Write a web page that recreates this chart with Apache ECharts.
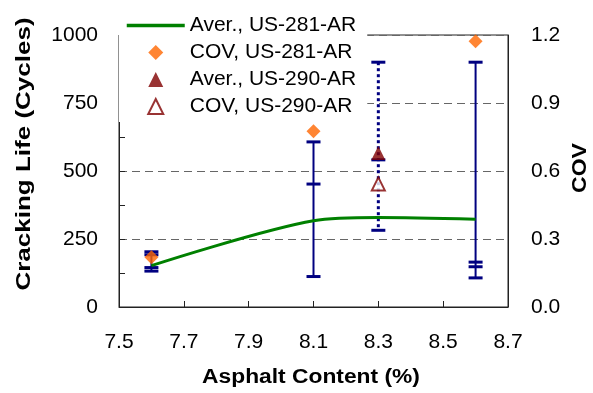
<!DOCTYPE html>
<html>
<head>
<meta charset="utf-8">
<script src="https://cdn.jsdelivr.net/npm/echarts@6/dist/echarts.min.js"></script>
<style>
  html, body { margin: 0; padding: 0; background: #fff; }
  #chart { width: 593px; height: 393px; }
</style>
</head>
<body>
<div id="chart"></div>
<script>
// asphalt content (%) and results
const aver281X = [7.6, 8.1, 8.3, 8.6];
const aver281Y = [152, 317, 329, 323];
const cov281X = [7.6, 8.1, 8.6];
const cov281Y = [0.22, 0.775, 1.172];
const aver290X = [8.3];
const aver290Y = [566];
const cov290X = [8.3];
const cov290Y = [0.543];

// error bars (cycles): ends of each bar and the cross marks on it
const barX = [7.6, 8.1, 8.3, 8.6];
const barLow = [132, 112, 282, 107];
const barHigh = [203, 607, 900, 900];
const barMarks = [[203, 192, 145, 132], [607, 452, 112], [900, 541, 282], [900, 165, 148, 107]];
const barDotted = [false, false, true, false];

// axis ticks
const xTicks = [7.5, 7.7, 7.9, 8.1, 8.3, 8.5, 8.7];
const leftTicks = [0, 250, 500, 750, 1000];
const rightTicks = [0, 0.3, 0.6, 0.9, 1.2];

const FONT = '"Liberation Sans", Arial, sans-serif';
const NAVY = '#000080';
// path symbols so the legend keeps their aspect
const DIAMOND = 'path://M5,0L10,5L5,10L0,5Z';
const TRIANGLE = 'path://M5,0L10,10L0,10Z';

const chart = echarts.init(document.getElementById('chart'));

const pairs = (xs, ys) => xs.map((x, i) => [x, ys[i]]);

chart.setOption({
  animation: false,
  backgroundColor: '#fff',
  grid: {
    left: 119, right: 85, top: 35, bottom: 86,
    show: true, borderColor: '#222', borderWidth: 1, backgroundColor: 'transparent'
  },
  legend: {
    orient: 'vertical',
    left: 119, top: 0,
    padding: [15, 11, 5, 6],
    itemWidth: 58, itemHeight: 15, itemGap: 6,
    symbolKeepAspect: true,
    backgroundColor: '#fff',
    lineStyle: { width: 3.5 },
    textStyle: { fontFamily: FONT, fontSize: 21, color: '#000' },
    data: [
      // hide the dot the line icon gets by default
      { name: 'Aver., US-281-AR', itemStyle: { color: 'transparent', borderColor: 'transparent', borderWidth: 0 } },
      'COV, US-281-AR', 'Aver., US-290-AR', 'COV, US-290-AR'
    ]
  },
  xAxis: {
    type: 'value',
    min: xTicks[0], max: xTicks[xTicks.length - 1],
    interval: xTicks[1] - xTicks[0],
    axisLine: { lineStyle: { color: '#222', width: 1 } },
    axisTick: { inside: true, length: 6, lineStyle: { color: '#222' } },
    axisLabel: { margin: 25, fontFamily: FONT, fontSize: 21, color: '#000',
      formatter: v => v.toFixed(1) },
    splitLine: { show: false }
  },
  yAxis: [
    {
      type: 'value',
      min: leftTicks[0], max: leftTicks[leftTicks.length - 1],
      interval: leftTicks[1] - leftTicks[0],
      axisLine: { show: true, lineStyle: { color: '#222', width: 1 } },
      axisTick: { show: true, inside: true, length: 6, lineStyle: { color: '#222' } },
      minorTick: { show: true, splitNumber: 2, length: 6, lineStyle: { color: '#222' } },
      axisLabel: { margin: 21, fontFamily: FONT, fontSize: 21, color: '#000',
        formatter: v => String(v) },
      splitLine: { show: true, lineStyle: { color: '#666', type: [8, 5], width: 1 } }
    },
    {
      type: 'value',
      min: rightTicks[0], max: rightTicks[rightTicks.length - 1],
      interval: rightTicks[1] - rightTicks[0],
      axisLine: { show: true, lineStyle: { color: '#222', width: 1 } },
      axisTick: { show: false },
      axisLabel: { margin: 23, fontFamily: FONT, fontSize: 21, color: '#000',
        formatter: v => v.toFixed(1) },
      splitLine: { show: false }
    }
  ],
  graphic: [
    { type: 'text', x: 24, y: 154, rotation: Math.PI / 2, scaleX: 1.3,
      style: { text: 'Cracking Life (Cycles)', font: 'bold 20px ' + FONT, fill: '#000',
        textAlign: 'center', textVerticalAlign: 'middle' } },
    { type: 'text', x: 311, y: 377, scaleX: 1.14,
      style: { text: 'Asphalt Content (%)', font: 'bold 20px ' + FONT, fill: '#000',
        textAlign: 'center', textVerticalAlign: 'middle' } },
    { type: 'text', x: 580, y: 168, rotation: Math.PI / 2, scaleX: 1.15,
      style: { text: 'COV', font: 'bold 20px ' + FONT, fill: '#000',
        textAlign: 'center', textVerticalAlign: 'middle' } }
  ],
  series: [
    {
      type: 'custom',
      name: 'error bars',
      yAxisIndex: 0,
      z: 2,
      data: barX.map((x, i) => [x, barLow[i], barHigh[i]]),
      encode: { x: 0, y: [1, 2] },
      renderItem: function (params, api) {
        const i = params.dataIndex;
        const x = api.value(0);
        const px = api.coord([x, 0])[0];
        const yTop = api.coord([x, api.value(2)])[1];
        const yBot = api.coord([x, api.value(1)])[1];
        const children = [{
          type: 'line',
          shape: { x1: px, y1: yTop, x2: px, y2: yBot },
          style: { stroke: NAVY, lineWidth: barDotted[i] ? 3 : 2, lineDash: barDotted[i] ? [3, 3] : null }
        }];
        barMarks[i].forEach(function (v) {
          const py = api.coord([x, v])[1];
          children.push({
            type: 'line',
            shape: { x1: px - 7, y1: py, x2: px + 7, y2: py },
            style: { stroke: NAVY, lineWidth: 3 }
          });
        });
        return { type: 'group', children: children };
      }
    },
    {
      type: 'line',
      name: 'Aver., US-281-AR',
      yAxisIndex: 0,
      z: 3,
      smooth: 0.3,
      symbol: 'none',
      lineStyle: { color: '#008000', width: 3 },
      itemStyle: { color: '#008000' },
      data: pairs(aver281X, aver281Y)
    },
    {
      type: 'scatter',
      name: 'COV, US-281-AR',
      yAxisIndex: 1,
      z: 4,
      symbol: DIAMOND,
      symbolSize: 14,
      symbolKeepAspect: true,
      itemStyle: { color: '#ff6600' },
      data: pairs(cov281X, cov281Y)
    },
    {
      type: 'scatter',
      name: 'Aver., US-290-AR',
      yAxisIndex: 0,
      z: 4,
      symbol: TRIANGLE,
      symbolSize: 14,
      symbolKeepAspect: true,
      itemStyle: { color: '#800000' },
      data: pairs(aver290X, aver290Y)
    },
    {
      type: 'scatter',
      name: 'COV, US-290-AR',
      yAxisIndex: 1,
      z: 4,
      symbol: TRIANGLE,
      symbolSize: 13,
      symbolKeepAspect: true,
      itemStyle: { color: '#fff', borderColor: '#800000', borderWidth: 2 },
      data: pairs(cov290X, cov290Y)
    }
  ]
});
</script>
</body>
</html>
